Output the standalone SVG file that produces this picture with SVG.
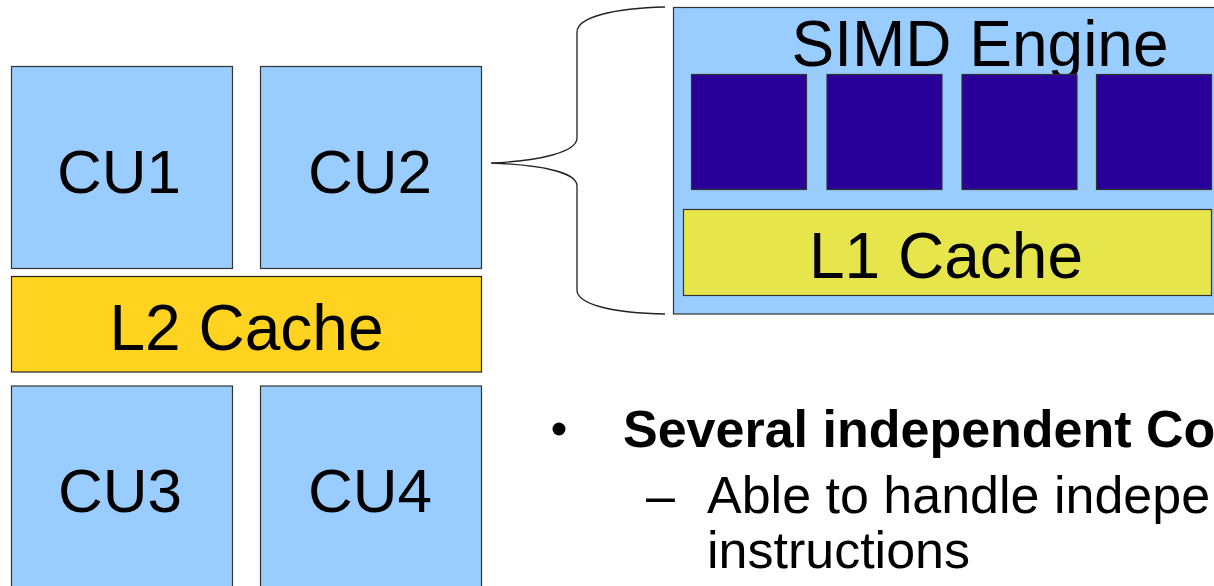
<svg xmlns="http://www.w3.org/2000/svg" width="1214" height="586" viewBox="0 0 1214 586">
<style>
.cu{fill:#99ccff;stroke:#333333;stroke-width:1.2}
.l2{fill:#ffd320;stroke:#222222;stroke-width:1.2}
.l1{fill:#e6e64c;stroke:#333333;stroke-width:1.2}
.alu{fill:#280099;stroke:#333333;stroke-width:1.2}
.big{font-family:"Liberation Sans",Arial,sans-serif;font-size:64px;fill:#000;text-anchor:middle}
.cut{font-family:"Liberation Sans",Arial,sans-serif;font-size:62px;fill:#000;text-anchor:middle}
.txt{font-family:"Liberation Sans",Arial,sans-serif;font-size:52px;fill:#000}
</style>
<rect width="1214" height="586" fill="#ffffff"/>
<g id="cu1"><rect class="cu" x="11.5" y="66.5" width="221" height="202"/><text class="cut" x="119" y="193">CU1</text></g>
<g id="cu2"><rect class="cu" x="260.5" y="66.5" width="221" height="202"/><text class="cut" x="370" y="193">CU2</text></g>
<g id="l2"><rect class="l2" x="11.5" y="276.5" width="470" height="95.5"/><text class="big" x="246.5" y="350">L2 Cache</text></g>
<g id="cu3"><rect class="cu" x="11.5" y="386" width="221" height="220"/><text class="cut" x="120" y="512">CU3</text></g>
<g id="cu4"><rect class="cu" x="260.5" y="386" width="221" height="220"/><text class="cut" x="370" y="512">CU4</text></g>
<g id="connectors">
<path d="M665,7 C615,8 577,17 577,32 L577,138 C577,152 540,161 491,163 C540,165 577,172 577,186 L577,290 C577,305 615,313 665,314" fill="none" stroke="#222222" stroke-width="1.3"/>
</g>
<g id="simd">
<rect class="cu" x="673.5" y="7.5" width="560" height="306.5"/>
<text class="big" x="980" y="66">SIMD Engine</text>
<rect class="alu" x="691.5" y="74.5" width="115" height="115"/>
<rect class="alu" x="827" y="74.5" width="115" height="115"/>
<rect class="alu" x="962" y="74.5" width="115" height="115"/>
<rect class="alu" x="1096.5" y="74.5" width="115" height="115"/>
</g>
<g id="l1"><rect class="l1" x="683.5" y="209.5" width="528" height="86"/><text class="big" x="946" y="278">L1 Cache</text></g>
<g id="bullets">
<circle cx="559" cy="429" r="6.5" fill="#000"/>
<text class="txt" x="623" y="447" font-weight="bold">Several independent Co</text>
<text class="txt" x="646" y="513">–</text>
<text class="txt" x="707" y="513">Able to handle indepe</text>
<text class="txt" x="707" y="568">instructions</text>
</g>
</svg>
